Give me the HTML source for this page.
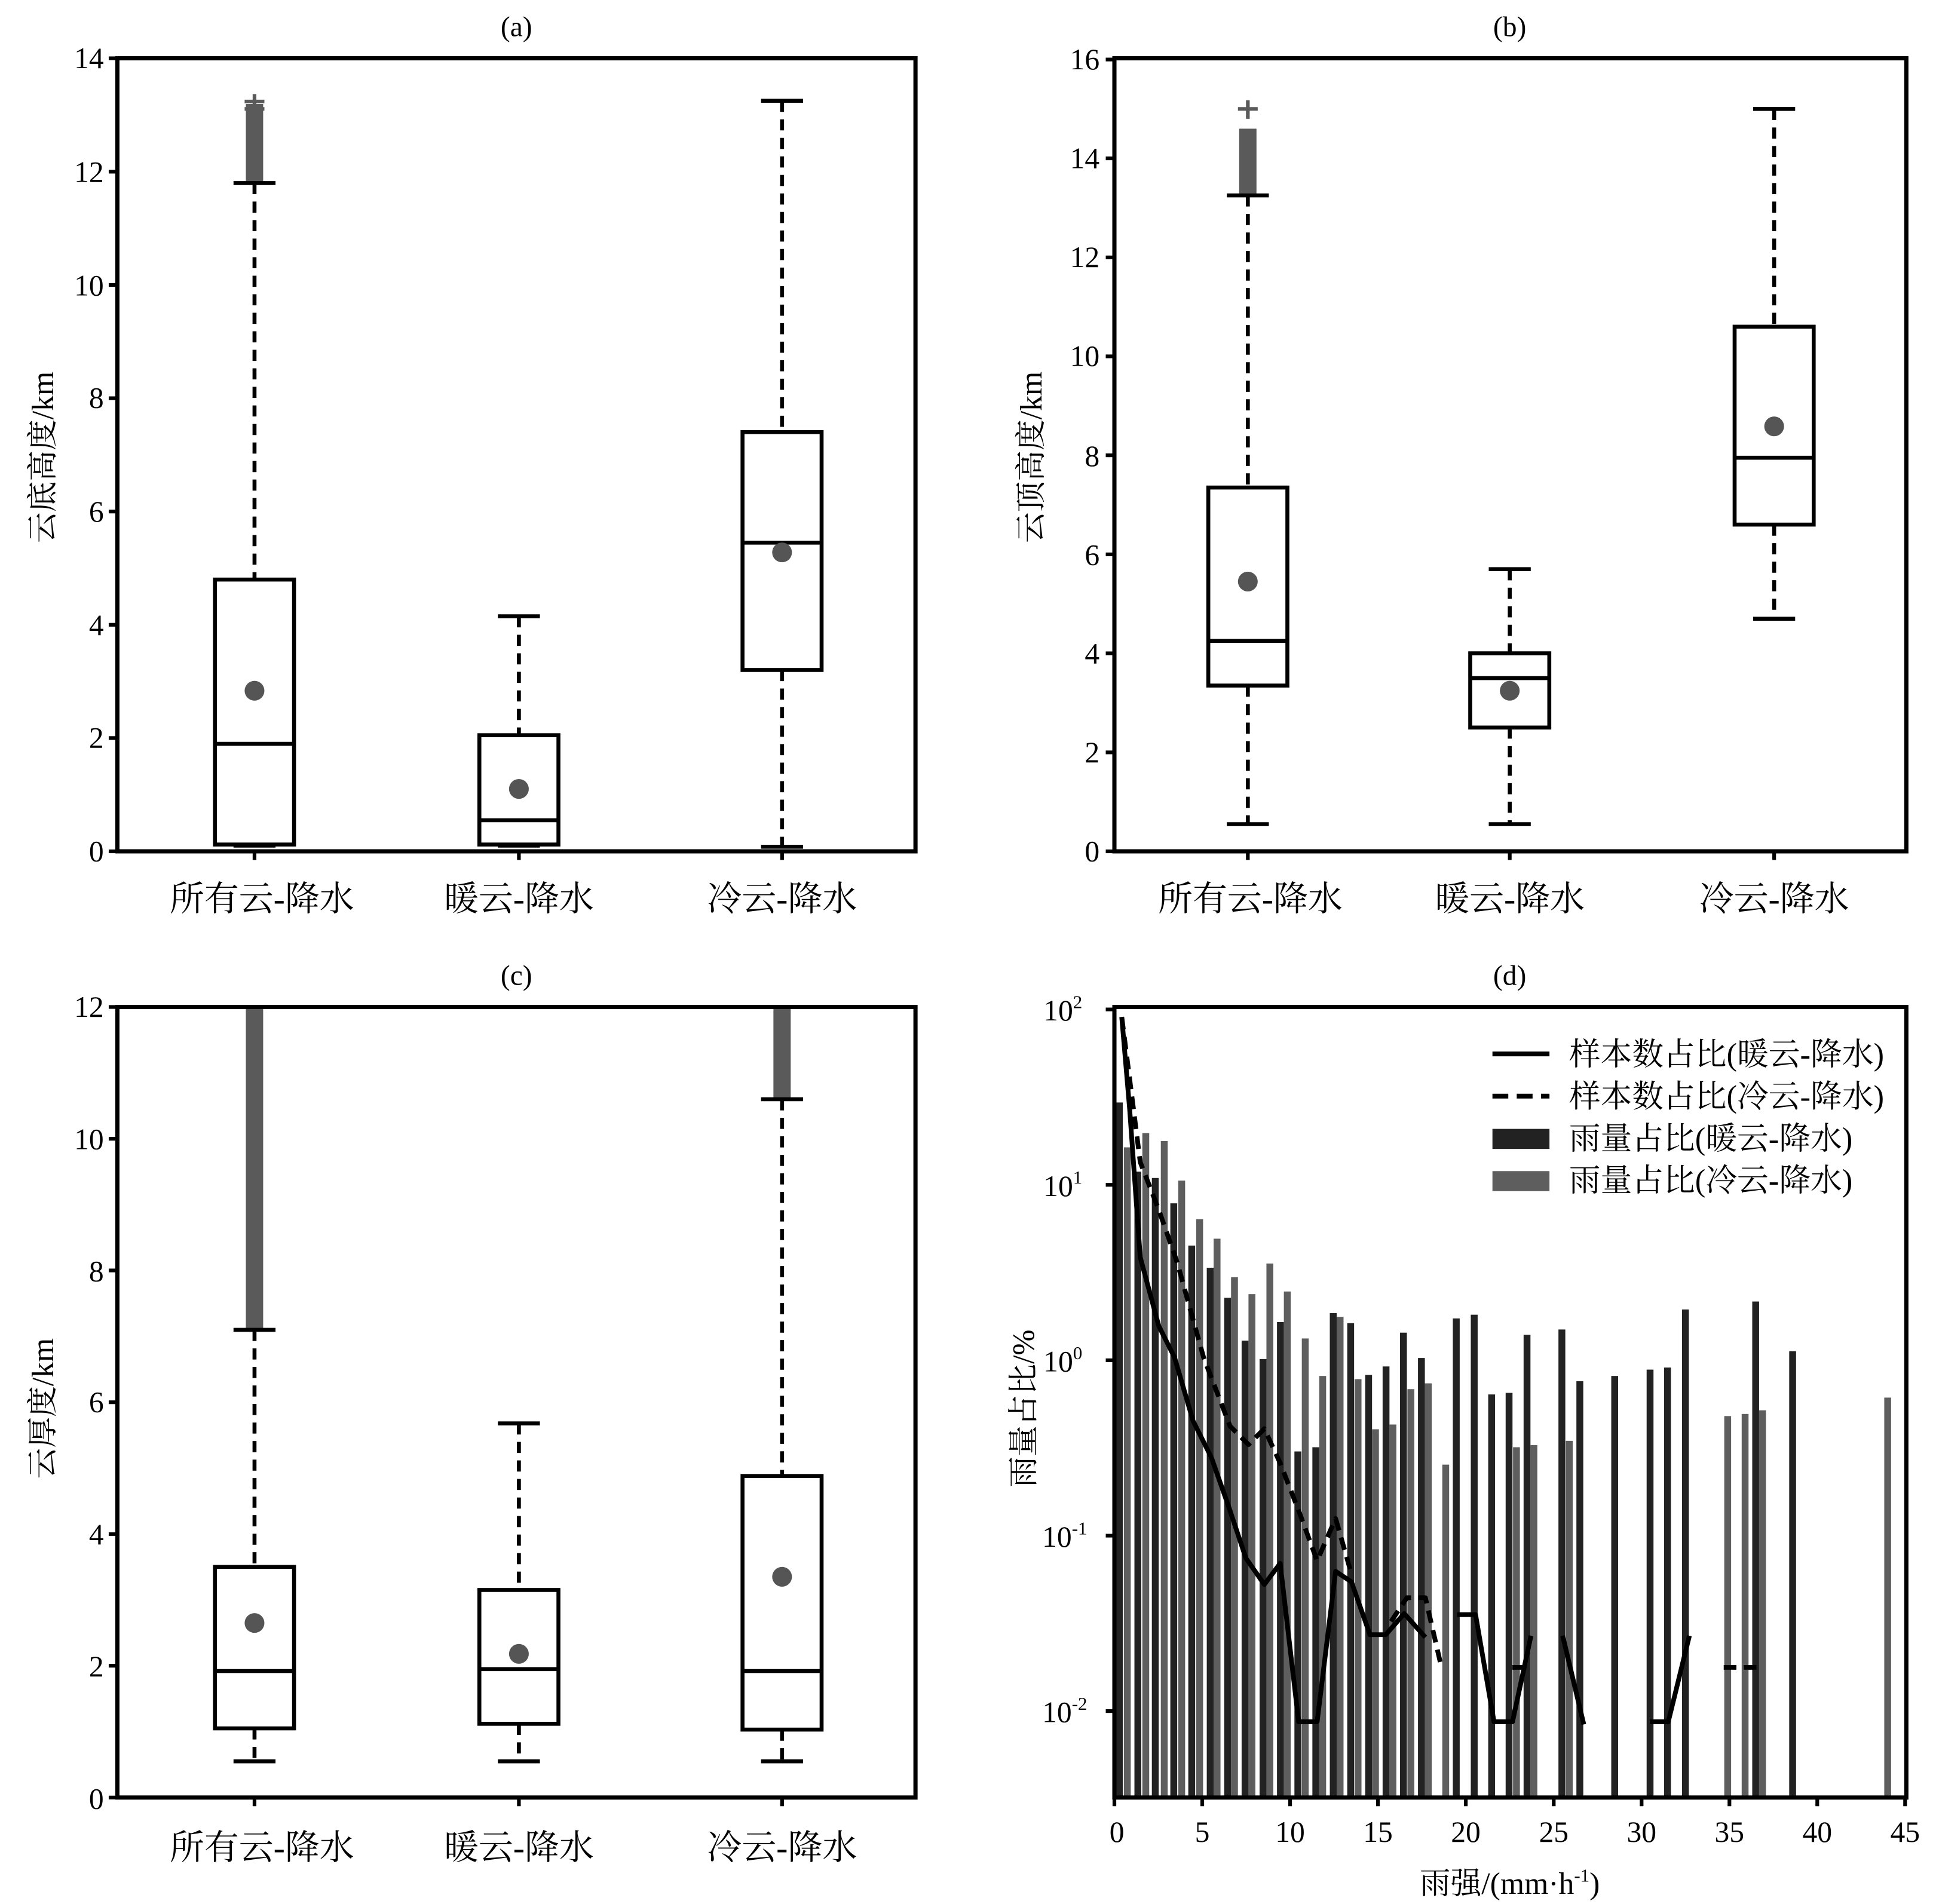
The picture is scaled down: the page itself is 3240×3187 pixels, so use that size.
<!DOCTYPE html>
<html><head><meta charset="utf-8"><style>
html,body{margin:0;padding:0;background:#fff;}
svg{display:block;}
text{font-family:"Liberation Serif","Noto Serif CJK SC",serif;fill:#000;}
</style></head><body>
<svg width="3240" height="3187" viewBox="0 0 1567 1541" xmlns="http://www.w3.org/2000/svg">
<rect x="0" y="0" width="1567" height="1541" fill="#fff"/>
<g font-size="23" text-anchor="middle">
<text x="418" y="29">(a)</text><text x="1222" y="29">(b)</text>
<text x="418" y="797">(c)</text><text x="1222" y="797">(d)</text>
</g>
<g font-size="25" text-anchor="middle">
<text transform="translate(43,370) rotate(-90)">云底高度/km</text>
<text transform="translate(843,370) rotate(-90)">云顶高度/km</text>
<text transform="translate(43,1140) rotate(-90)">云厚度/km</text>
<text transform="translate(837,1140) rotate(-90)">雨量占比/%</text>
</g>
<g font-size="28" text-anchor="middle">
<text x="212" y="737">所有云-降水</text><text x="420" y="737">暖云-降水</text><text x="633" y="737">冷云-降水</text>
<text x="1012" y="737">所有云-降水</text><text x="1222" y="737">暖云-降水</text><text x="1436" y="737">冷云-降水</text>
<text x="212" y="1505">所有云-降水</text><text x="420" y="1505">暖云-降水</text><text x="633" y="1505">冷云-降水</text>
</g>

<!-- ===== Panel a ===== -->
<g stroke="#000" stroke-width="3" fill="none">
<line x1="95" y1="689" x2="88" y2="689"/><line x1="95" y1="597.3" x2="88" y2="597.3"/><line x1="95" y1="505.6" x2="88" y2="505.6"/><line x1="95" y1="413.9" x2="88" y2="413.9"/><line x1="95" y1="322.2" x2="88" y2="322.2"/><line x1="95" y1="230.5" x2="88" y2="230.5"/><line x1="95" y1="138.8" x2="88" y2="138.8"/><line x1="95" y1="47" x2="88" y2="47"/>
<line x1="206" y1="689" x2="206" y2="696"/><line x1="420" y1="689" x2="420" y2="696"/><line x1="633" y1="689" x2="633" y2="696"/>
</g>
<g font-size="24" text-anchor="end">
<text x="84" y="697">0</text><text x="84" y="605">2</text><text x="84" y="514">4</text><text x="84" y="422">6</text><text x="84" y="330">8</text><text x="84" y="239">10</text><text x="84" y="147">12</text><text x="84" y="55">14</text>
</g>
<rect x="199" y="84" width="14" height="64" fill="#5a5a5a"/>
<g stroke="#5a5a5a" stroke-width="3"><line x1="206" y1="76" x2="206" y2="92"/><line x1="198" y1="82" x2="214" y2="82"/><line x1="198" y1="88" x2="214" y2="88"/></g>
<g stroke="#000" stroke-width="3.2" fill="#fff">
<line x1="206" y1="148" x2="206" y2="469" stroke-dasharray="9,6"/>
<line x1="189" y1="148" x2="223" y2="148"/><line x1="189" y1="684.4" x2="223" y2="684.4"/>
<rect x="174" y="469" width="64" height="214.5"/><line x1="174" y1="602" x2="238" y2="602"/>
<line x1="420" y1="498.7" x2="420" y2="595" stroke-dasharray="9,6"/>
<line x1="403" y1="498.7" x2="437" y2="498.7"/><line x1="403" y1="684.4" x2="437" y2="684.4"/>
<rect x="388" y="595" width="64" height="88.5"/><line x1="388" y1="663.8" x2="452" y2="663.8"/>
<line x1="633" y1="81.4" x2="633" y2="349.6" stroke-dasharray="9,6"/>
<line x1="633" y1="542.2" x2="633" y2="685.3" stroke-dasharray="9,6"/>
<line x1="616" y1="81.4" x2="650" y2="81.4"/><line x1="616" y1="685.3" x2="650" y2="685.3"/>
<rect x="601" y="349.6" width="64" height="192.6"/><line x1="601" y1="439.1" x2="665" y2="439.1"/>
</g>
<g fill="#555"><circle cx="206" cy="559" r="8"/><circle cx="420" cy="638.5" r="8"/><circle cx="633" cy="447" r="8"/></g>
<rect x="95" y="47" width="646" height="642" fill="none" stroke="#000" stroke-width="3.4"/>

<!-- ===== Panel b ===== -->
<g stroke="#000" stroke-width="3" fill="none">
<line x1="902" y1="689" x2="895" y2="689"/><line x1="902" y1="608.9" x2="895" y2="608.9"/><line x1="902" y1="528.7" x2="895" y2="528.7"/><line x1="902" y1="448.6" x2="895" y2="448.6"/><line x1="902" y1="368.4" x2="895" y2="368.4"/><line x1="902" y1="288.3" x2="895" y2="288.3"/><line x1="902" y1="208.2" x2="895" y2="208.2"/><line x1="902" y1="128" x2="895" y2="128"/><line x1="902" y1="48" x2="895" y2="48"/>
<line x1="1010" y1="689" x2="1010" y2="696"/><line x1="1222" y1="689" x2="1222" y2="696"/><line x1="1436" y1="689" x2="1436" y2="696"/>
</g>
<g font-size="24" text-anchor="end">
<text x="890" y="697">0</text><text x="890" y="617">2</text><text x="890" y="537">4</text><text x="890" y="457">6</text><text x="890" y="377">8</text><text x="890" y="296">10</text><text x="890" y="216">12</text><text x="890" y="136">14</text><text x="890" y="56">16</text>
</g>
<rect x="1003" y="104" width="14" height="54" fill="#5a5a5a"/>
<g stroke="#5a5a5a" stroke-width="3"><line x1="1010" y1="81" x2="1010" y2="96"/><line x1="1002" y1="88" x2="1018" y2="88"/></g>
<g stroke="#000" stroke-width="3.2" fill="#fff">
<line x1="1010" y1="158" x2="1010" y2="394.5" stroke-dasharray="9,6"/>
<line x1="1010" y1="554.8" x2="1010" y2="667" stroke-dasharray="9,6"/>
<line x1="993" y1="158" x2="1027" y2="158"/><line x1="993" y1="667" x2="1027" y2="667"/>
<rect x="978" y="394.5" width="64" height="160.3"/><line x1="978" y1="518.7" x2="1042" y2="518.7"/>
<line x1="1222" y1="460.6" x2="1222" y2="528.7" stroke-dasharray="9,6"/>
<line x1="1222" y1="588.8" x2="1222" y2="667" stroke-dasharray="9,6"/>
<line x1="1205" y1="460.6" x2="1239" y2="460.6"/><line x1="1205" y1="667" x2="1239" y2="667"/>
<rect x="1190" y="528.7" width="64" height="60.1"/><line x1="1190" y1="548.8" x2="1254" y2="548.8"/>
<line x1="1436" y1="88" x2="1436" y2="264.3" stroke-dasharray="9,6"/>
<line x1="1436" y1="424.5" x2="1436" y2="500.7" stroke-dasharray="9,6"/>
<line x1="1419" y1="88" x2="1453" y2="88"/><line x1="1419" y1="500.7" x2="1453" y2="500.7"/>
<rect x="1404" y="264.3" width="64" height="160.2"/><line x1="1404" y1="370.4" x2="1468" y2="370.4"/>
</g>
<g fill="#555"><circle cx="1010" cy="470.6" r="8"/><circle cx="1222" cy="559" r="8"/><circle cx="1436" cy="345" r="8"/></g>
<rect x="902" y="47" width="641" height="642" fill="none" stroke="#000" stroke-width="3.4"/>

<!-- ===== Panel c ===== -->
<g stroke="#000" stroke-width="3" fill="none">
<line x1="95" y1="1455" x2="88" y2="1455"/><line x1="95" y1="1348.3" x2="88" y2="1348.3"/><line x1="95" y1="1241.7" x2="88" y2="1241.7"/><line x1="95" y1="1135" x2="88" y2="1135"/><line x1="95" y1="1028.3" x2="88" y2="1028.3"/><line x1="95" y1="921.7" x2="88" y2="921.7"/><line x1="95" y1="815" x2="88" y2="815"/>
<line x1="206" y1="1455" x2="206" y2="1462"/><line x1="420" y1="1455" x2="420" y2="1462"/><line x1="633" y1="1455" x2="633" y2="1462"/>
</g>
<g font-size="24" text-anchor="end">
<text x="84" y="1464">0</text><text x="84" y="1357">2</text><text x="84" y="1250">4</text><text x="84" y="1143">6</text><text x="84" y="1037">8</text><text x="84" y="930">10</text><text x="84" y="823">12</text>
</g>
<rect x="199" y="815" width="14" height="262" fill="#5a5a5a"/>
<rect x="626" y="815" width="14" height="75" fill="#5a5a5a"/>
<g stroke="#000" stroke-width="3.2" fill="#fff">
<line x1="206" y1="1076.4" x2="206" y2="1268.3" stroke-dasharray="9,6"/>
<line x1="206" y1="1399" x2="206" y2="1425.7" stroke-dasharray="9,6"/>
<line x1="189" y1="1076.4" x2="223" y2="1076.4"/><line x1="189" y1="1425.7" x2="223" y2="1425.7"/>
<rect x="174" y="1268.3" width="64" height="130.7"/><line x1="174" y1="1352.6" x2="238" y2="1352.6"/>
<line x1="420" y1="1152.1" x2="420" y2="1287" stroke-dasharray="9,6"/>
<line x1="420" y1="1395.3" x2="420" y2="1425.7" stroke-dasharray="9,6"/>
<line x1="403" y1="1152.1" x2="437" y2="1152.1"/><line x1="403" y1="1425.7" x2="437" y2="1425.7"/>
<rect x="388" y="1287" width="64" height="108.3"/><line x1="388" y1="1351" x2="452" y2="1351"/>
<line x1="633" y1="889.7" x2="633" y2="1194.7" stroke-dasharray="9,6"/>
<line x1="633" y1="1400" x2="633" y2="1425.7" stroke-dasharray="9,6"/>
<line x1="616" y1="889.7" x2="650" y2="889.7"/><line x1="616" y1="1425.7" x2="650" y2="1425.7"/>
<rect x="601" y="1194.7" width="64" height="205.3"/><line x1="601" y1="1352.6" x2="665" y2="1352.6"/>
</g>
<g fill="#555"><circle cx="206" cy="1313.7" r="8"/><circle cx="420" cy="1338.7" r="8"/><circle cx="633" cy="1276.3" r="8"/></g>
<rect x="95" y="815" width="646" height="640" fill="none" stroke="#000" stroke-width="3.4"/>

<!-- ===== Panel d ===== -->
<g transform="translate(899.4,812.4) scale(0.4274)">
<g fill="#222">
<rect x="9" y="187" width="13" height="1317"/>
<rect x="44" y="318" width="13" height="1186"/>
<rect x="77" y="330" width="13" height="1174"/>
<rect x="112" y="378" width="13" height="1126"/>
<rect x="146" y="458" width="13" height="1046"/>
<rect x="181" y="500" width="13" height="1004"/>
<rect x="214" y="557" width="13" height="947"/>
<rect x="247" y="638" width="13" height="866"/>
<rect x="281" y="673" width="13" height="831"/>
<rect x="314" y="603" width="13" height="901"/>
<rect x="347" y="848" width="13" height="656"/>
<rect x="381" y="840" width="13" height="664"/>
<rect x="414" y="586" width="13" height="918"/>
<rect x="447" y="605" width="13" height="899"/>
<rect x="481" y="703" width="13" height="801"/>
<rect x="514" y="687" width="13" height="817"/>
<rect x="547" y="623" width="13" height="881"/>
<rect x="581" y="671" width="13" height="833"/>
<rect x="647" y="596" width="13" height="908"/>
<rect x="681" y="589" width="13" height="915"/>
<rect x="714" y="740" width="13" height="764"/>
<rect x="747" y="737" width="13" height="767"/>
<rect x="781" y="627" width="13" height="877"/>
<rect x="847" y="617" width="13" height="887"/>
<rect x="881" y="715" width="13" height="789"/>
<rect x="947" y="705" width="13" height="799"/>
<rect x="1014" y="693" width="13" height="811"/>
<rect x="1047" y="689" width="13" height="815"/>
<rect x="1081" y="579" width="13" height="925"/>
<rect x="1214" y="564" width="13" height="940"/>
<rect x="1284" y="658" width="13" height="846"/>
</g>
<g fill="#5e5e5e">
<rect x="24" y="272" width="13" height="1232"/>
<rect x="59" y="245" width="13" height="1259"/>
<rect x="94" y="260" width="13" height="1244"/>
<rect x="127" y="335" width="13" height="1169"/>
<rect x="161" y="408" width="13" height="1096"/>
<rect x="194" y="445" width="13" height="1059"/>
<rect x="227" y="518" width="13" height="986"/>
<rect x="260" y="550" width="13" height="954"/>
<rect x="294" y="492" width="13" height="1012"/>
<rect x="327" y="545" width="13" height="959"/>
<rect x="361" y="634" width="13" height="870"/>
<rect x="394" y="705" width="13" height="799"/>
<rect x="427" y="593" width="13" height="911"/>
<rect x="461" y="711" width="13" height="793"/>
<rect x="494" y="806" width="13" height="698"/>
<rect x="527" y="797" width="13" height="707"/>
<rect x="561" y="730" width="13" height="774"/>
<rect x="594" y="719" width="13" height="785"/>
<rect x="627" y="873" width="13" height="631"/>
<rect x="761" y="840" width="13" height="664"/>
<rect x="794" y="836" width="13" height="668"/>
<rect x="861" y="828" width="13" height="676"/>
<rect x="1161" y="781" width="13" height="723"/>
<rect x="1194" y="777" width="13" height="727"/>
<rect x="1227" y="770" width="13" height="734"/>
<rect x="1464" y="746" width="13" height="758"/>
</g>
<g fill="none" stroke="#000" stroke-width="9" stroke-linejoin="round">
<polyline points="20,25 35,200 55,480 90,610 120,670 155,790 190,860 225,960 255,1050 290,1100 320,1060 355,1360 390,1360 425,1075 455,1095 490,1195 520,1195 555,1155 595,1200"/>
<polyline points="655,1157 690,1157 725,1360 760,1360 795,1197"/>
<polyline points="855,1197 895,1365"/>
<polyline points="1020,1360 1055,1360 1095,1197"/>
<g stroke-dasharray="24,14">
<polyline points="20,25 55,300 90,390 125,490 175,670 225,800 260,835 290,805 320,870 355,960 390,1055 425,975 455,1080"/>
<polyline points="530,1170 560,1125 595,1125 625,1255"/>
<polyline points="760,1257 795,1257"/>
<polyline points="1160,1257 1225,1257"/>
</g>
</g>
<g stroke="#000" stroke-width="9"><line x1="722" y1="95" x2="830" y2="95"/><line x1="722" y1="175" x2="830" y2="175" stroke-dasharray="30,16"/></g>
<rect x="722" y="237" width="108" height="38" fill="#222"/>
<rect x="722" y="317" width="108" height="38" fill="#5e5e5e"/>
</g>
<g font-size="25.5">
<text x="1270" y="862">样本数占比(暖云-降水)</text>
<text x="1270" y="896">样本数占比(冷云-降水)</text>
<text x="1270" y="930">雨量占比(暖云-降水)</text>
<text x="1270" y="964">雨量占比(冷云-降水)</text>
</g>
<g stroke="#000" stroke-width="3">
<line x1="902" y1="817" x2="895" y2="817"/><line x1="902" y1="959" x2="895" y2="959"/><line x1="902" y1="1101" x2="895" y2="1101"/><line x1="902" y1="1243" x2="895" y2="1243"/><line x1="902" y1="1385" x2="895" y2="1385"/>
<line x1="902" y1="1455" x2="902" y2="1462"/><line x1="973.1" y1="1455" x2="973.1" y2="1462"/><line x1="1044.2" y1="1455" x2="1044.2" y2="1462"/><line x1="1115.3" y1="1455" x2="1115.3" y2="1462"/><line x1="1186.4" y1="1455" x2="1186.4" y2="1462"/><line x1="1257.6" y1="1455" x2="1257.6" y2="1462"/><line x1="1328.7" y1="1455" x2="1328.7" y2="1462"/><line x1="1399.8" y1="1455" x2="1399.8" y2="1462"/><line x1="1470.9" y1="1455" x2="1470.9" y2="1462"/><line x1="1542" y1="1455" x2="1542" y2="1462"/>
</g>
<g font-size="24" text-anchor="end">
<text x="876" y="826">10<tspan font-size="15" dy="-10">2</tspan></text>
<text x="876" y="968">10<tspan font-size="15" dy="-10">1</tspan></text>
<text x="876" y="1110">10<tspan font-size="15" dy="-10">0</tspan></text>
<text x="880" y="1252">10<tspan font-size="15" dy="-10">-1</tspan></text>
<text x="880" y="1394">10<tspan font-size="15" dy="-10">-2</tspan></text>
</g>
<g font-size="24" text-anchor="middle">
<text x="904" y="1491">0</text><text x="973.1" y="1491">5</text><text x="1044.2" y="1491">10</text><text x="1115.3" y="1491">15</text><text x="1186.4" y="1491">20</text><text x="1257.6" y="1491">25</text><text x="1328.7" y="1491">30</text><text x="1399.8" y="1491">35</text><text x="1470.9" y="1491">40</text><text x="1542" y="1491">45</text>
</g>
<text x="1222" y="1533" font-size="25" text-anchor="middle">雨强/(mm·h<tspan font-size="15" dy="-10">-1</tspan><tspan dy="10">)</tspan></text>
<rect x="902" y="815" width="641" height="640" fill="none" stroke="#000" stroke-width="3.4"/>
</svg>
</body></html>
